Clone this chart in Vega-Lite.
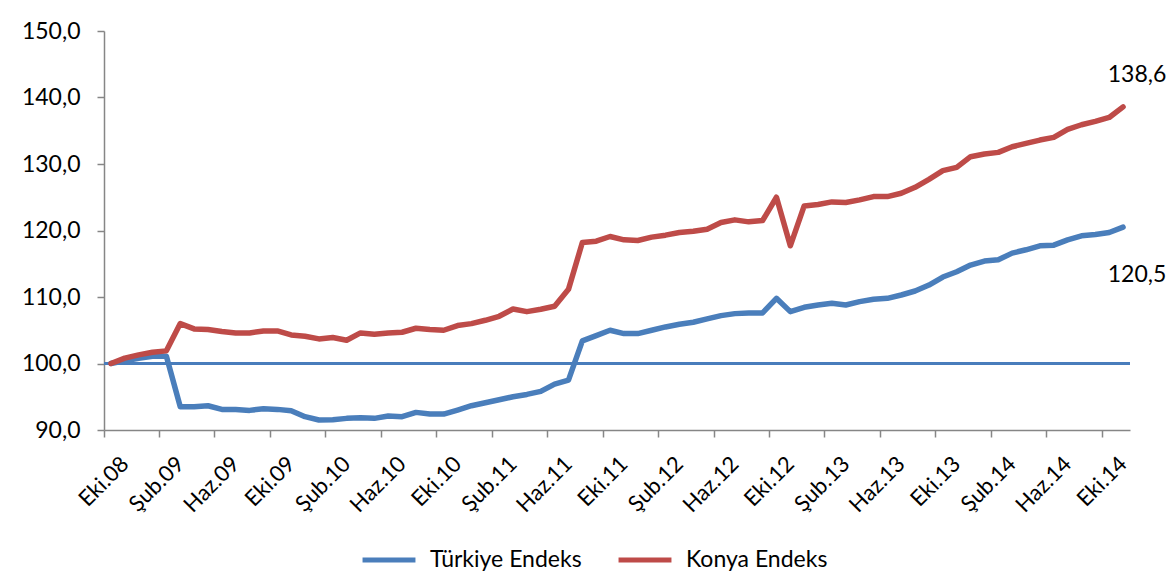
{
  "$schema": "https://vega.github.io/schema/vega-lite/v6.json",
  "autosize": {"type": "none"},
  "width": 1026,
  "height": 399,
  "padding": {"left": 104, "top": 31, "right": 43, "bottom": 150},
  "background": "white",
  "config": {
    "locale": {"number": {"decimal": ",", "thousands": ".", "grouping": [3], "currency": ["", " TL"]}},
    "font": "Lato",
    "view": {"stroke": null},
    "axis": {"grid": false, "domainColor": "#868686", "tickColor": "#868686", "domainWidth": 1.5, "tickWidth": 1.5, "tickSize": 7, "labelColor": "#000000", "labelFont": "Lato", "labelFontSize": 23, "titleFont": "Lato"}
  },
  "data": {
    "values": [
      {"ay": "Eki.08", "Türkiye Endeks": 100.0, "Konya Endeks": 100.0},
      {"ay": "Kas.08", "Türkiye Endeks": 100.4, "Konya Endeks": 100.8},
      {"ay": "Ara.08", "Türkiye Endeks": 100.8, "Konya Endeks": 101.3},
      {"ay": "Oca.09", "Türkiye Endeks": 101.1, "Konya Endeks": 101.7},
      {"ay": "Şub.09", "Türkiye Endeks": 101.1, "Konya Endeks": 101.9},
      {"ay": "Mar.09", "Türkiye Endeks": 93.5, "Konya Endeks": 106.0},
      {"ay": "Nis.09", "Türkiye Endeks": 93.5, "Konya Endeks": 105.2},
      {"ay": "May.09", "Türkiye Endeks": 93.65, "Konya Endeks": 105.1},
      {"ay": "Haz.09", "Türkiye Endeks": 93.1, "Konya Endeks": 104.8},
      {"ay": "Tem.09", "Türkiye Endeks": 93.1, "Konya Endeks": 104.6},
      {"ay": "Ağu.09", "Türkiye Endeks": 92.95, "Konya Endeks": 104.6},
      {"ay": "Eyl.09", "Türkiye Endeks": 93.2, "Konya Endeks": 104.9},
      {"ay": "Eki.09", "Türkiye Endeks": 93.1, "Konya Endeks": 104.9},
      {"ay": "Kas.09", "Türkiye Endeks": 92.9, "Konya Endeks": 104.3},
      {"ay": "Ara.09", "Türkiye Endeks": 92.0, "Konya Endeks": 104.1},
      {"ay": "Oca.10", "Türkiye Endeks": 91.5, "Konya Endeks": 103.7},
      {"ay": "Şub.10", "Türkiye Endeks": 91.55, "Konya Endeks": 103.9},
      {"ay": "Mar.10", "Türkiye Endeks": 91.75, "Konya Endeks": 103.5},
      {"ay": "Nis.10", "Türkiye Endeks": 91.85, "Konya Endeks": 104.6},
      {"ay": "May.10", "Türkiye Endeks": 91.75, "Konya Endeks": 104.4},
      {"ay": "Haz.10", "Türkiye Endeks": 92.1, "Konya Endeks": 104.6},
      {"ay": "Tem.10", "Türkiye Endeks": 92.0, "Konya Endeks": 104.7},
      {"ay": "Ağu.10", "Türkiye Endeks": 92.65, "Konya Endeks": 105.3},
      {"ay": "Eyl.10", "Türkiye Endeks": 92.4, "Konya Endeks": 105.1},
      {"ay": "Eki.10", "Türkiye Endeks": 92.4, "Konya Endeks": 105.0},
      {"ay": "Kas.10", "Türkiye Endeks": 93.0, "Konya Endeks": 105.7},
      {"ay": "Ara.10", "Türkiye Endeks": 93.65, "Konya Endeks": 106.0},
      {"ay": "Oca.11", "Türkiye Endeks": 94.1, "Konya Endeks": 106.5},
      {"ay": "Şub.11", "Türkiye Endeks": 94.55, "Konya Endeks": 107.1},
      {"ay": "Mar.11", "Türkiye Endeks": 95.0, "Konya Endeks": 108.2},
      {"ay": "Nis.11", "Türkiye Endeks": 95.35, "Konya Endeks": 107.8},
      {"ay": "May.11", "Türkiye Endeks": 95.8, "Konya Endeks": 108.15},
      {"ay": "Haz.11", "Türkiye Endeks": 96.9, "Konya Endeks": 108.6},
      {"ay": "Tem.11", "Türkiye Endeks": 97.5, "Konya Endeks": 111.15},
      {"ay": "Ağu.11", "Türkiye Endeks": 103.4, "Konya Endeks": 118.2},
      {"ay": "Eyl.11", "Türkiye Endeks": 104.2, "Konya Endeks": 118.4},
      {"ay": "Eki.11", "Türkiye Endeks": 105.0, "Konya Endeks": 119.1},
      {"ay": "Kas.11", "Türkiye Endeks": 104.5, "Konya Endeks": 118.6},
      {"ay": "Ara.11", "Türkiye Endeks": 104.5, "Konya Endeks": 118.5},
      {"ay": "Oca.12", "Türkiye Endeks": 105.0, "Konya Endeks": 119.0},
      {"ay": "Şub.12", "Türkiye Endeks": 105.5, "Konya Endeks": 119.3},
      {"ay": "Mar.12", "Türkiye Endeks": 105.9, "Konya Endeks": 119.7},
      {"ay": "Nis.12", "Türkiye Endeks": 106.2, "Konya Endeks": 119.9},
      {"ay": "May.12", "Türkiye Endeks": 106.7, "Konya Endeks": 120.2},
      {"ay": "Haz.12", "Türkiye Endeks": 107.2, "Konya Endeks": 121.2},
      {"ay": "Tem.12", "Türkiye Endeks": 107.5, "Konya Endeks": 121.6},
      {"ay": "Ağu.12", "Türkiye Endeks": 107.6, "Konya Endeks": 121.3},
      {"ay": "Eyl.12", "Türkiye Endeks": 107.6, "Konya Endeks": 121.5},
      {"ay": "Eki.12", "Türkiye Endeks": 109.8, "Konya Endeks": 125.0},
      {"ay": "Kas.12", "Türkiye Endeks": 107.8, "Konya Endeks": 117.7},
      {"ay": "Ara.12", "Türkiye Endeks": 108.45, "Konya Endeks": 123.7},
      {"ay": "Oca.13", "Türkiye Endeks": 108.8, "Konya Endeks": 123.9},
      {"ay": "Şub.13", "Türkiye Endeks": 109.05, "Konya Endeks": 124.3},
      {"ay": "Mar.13", "Türkiye Endeks": 108.8, "Konya Endeks": 124.2},
      {"ay": "Nis.13", "Türkiye Endeks": 109.3, "Konya Endeks": 124.6},
      {"ay": "May.13", "Türkiye Endeks": 109.65, "Konya Endeks": 125.1},
      {"ay": "Haz.13", "Türkiye Endeks": 109.8, "Konya Endeks": 125.1},
      {"ay": "Tem.13", "Türkiye Endeks": 110.3, "Konya Endeks": 125.6},
      {"ay": "Ağu.13", "Türkiye Endeks": 110.9, "Konya Endeks": 126.5},
      {"ay": "Eyl.13", "Türkiye Endeks": 111.8, "Konya Endeks": 127.7},
      {"ay": "Eki.13", "Türkiye Endeks": 113.0, "Konya Endeks": 129.0},
      {"ay": "Kas.13", "Türkiye Endeks": 113.8, "Konya Endeks": 129.5},
      {"ay": "Ara.13", "Türkiye Endeks": 114.8, "Konya Endeks": 131.1},
      {"ay": "Oca.14", "Türkiye Endeks": 115.4, "Konya Endeks": 131.5},
      {"ay": "Şub.14", "Türkiye Endeks": 115.6, "Konya Endeks": 131.75},
      {"ay": "Mar.14", "Türkiye Endeks": 116.6, "Konya Endeks": 132.6},
      {"ay": "Nis.14", "Türkiye Endeks": 117.1, "Konya Endeks": 133.1},
      {"ay": "May.14", "Türkiye Endeks": 117.7, "Konya Endeks": 133.6},
      {"ay": "Haz.14", "Türkiye Endeks": 117.8, "Konya Endeks": 134.0},
      {"ay": "Tem.14", "Türkiye Endeks": 118.6, "Konya Endeks": 135.2},
      {"ay": "Ağu.14", "Türkiye Endeks": 119.2, "Konya Endeks": 135.9},
      {"ay": "Eyl.14", "Türkiye Endeks": 119.4, "Konya Endeks": 136.4},
      {"ay": "Eki.14", "Türkiye Endeks": 119.7, "Konya Endeks": 137.0},
      {"ay": "Kas.14", "Türkiye Endeks": 120.5, "Konya Endeks": 138.6}
    ]
  },
  "transform": [{"fold": ["Türkiye Endeks", "Konya Endeks"], "as": ["seri", "deger"]}],
  "encoding": {
    "x": {
      "field": "ay", "type": "ordinal", "sort": null,
      "scale": {"type": "band", "paddingInner": 0, "paddingOuter": 0},
      "axis": {
        "title": null, "bandPosition": 0, "labelOffset": 7, "labelAngle": -45, "labelPadding": 16, "labelFontSize": 22,
        "values": ["Eki.08","Şub.09","Haz.09","Eki.09","Şub.10","Haz.10","Eki.10","Şub.11","Haz.11","Eki.11","Şub.12","Haz.12","Eki.12","Şub.13","Haz.13","Eki.13","Şub.14","Haz.14","Eki.14"]
      }
    },
    "y": {
      "field": "deger", "type": "quantitative",
      "scale": {"domain": [90, 150], "nice": false, "zero": false},
      "axis": {"title": null, "values": [90, 100, 110, 120, 130, 140, 150], "format": ".1f", "labelPadding": 17}
    }
  },
  "layer": [
    {
      "mark": {"type": "rule", "color": "#4A7EBB", "strokeWidth": 1.5},
      "encoding": {"x": null, "y": {"datum": 100}}
    },
    {
      "mark": {"type": "line", "strokeWidth": 5.5, "strokeJoin": "round", "strokeCap": "round"},
      "encoding": {
        "color": {
          "field": "seri", "type": "nominal",
          "scale": {"domain": ["Türkiye Endeks", "Konya Endeks"], "range": ["#4A7EBB", "#BE4B48"]},
          "legend": {
            "title": null, "orient": "none", "direction": "horizontal", "legendX": 256, "legendY": 500,
            "symbolType": "stroke", "symbolStrokeWidth": 5, "symbolSize": 2800,
            "labelFont": "Lato", "labelFontSize": 23, "labelColor": "#000000", "columnPadding": 26, "labelOffset": 12
          }
        }
      }
    },
    {
      "transform": [{"filter": "datum.ay === 'Kas.14' && datum.seri === 'Konya Endeks'"}],
      "mark": {"type": "text", "dx": 14, "dy": -32, "fontSize": 23, "color": "#000000"},
      "encoding": {"text": {"field": "deger", "type": "quantitative", "format": ".1f"}}
    },
    {
      "transform": [{"filter": "datum.ay === 'Kas.14' && datum.seri === 'Türkiye Endeks'"}],
      "mark": {"type": "text", "dx": 14, "dy": 48, "fontSize": 23, "color": "#000000"},
      "encoding": {"text": {"field": "deger", "type": "quantitative", "format": ".1f"}}
    }
  ]
}
